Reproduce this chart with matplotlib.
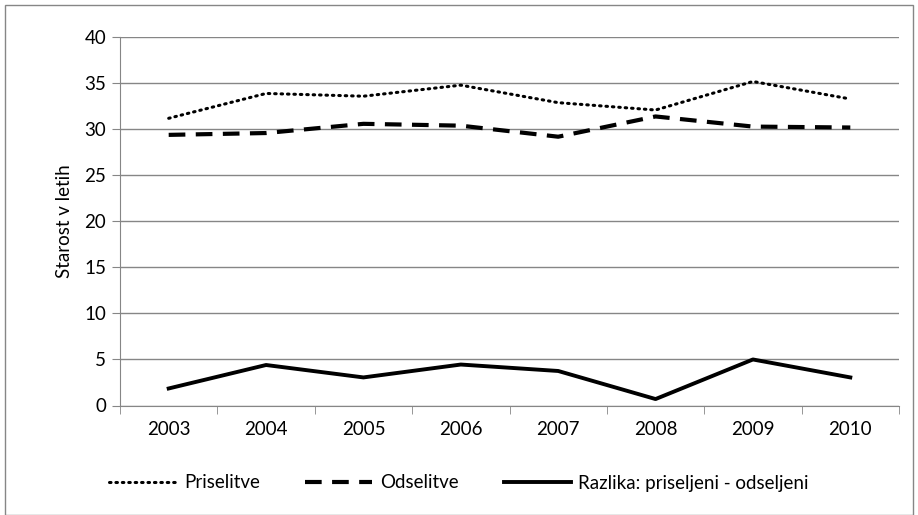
import numpy as np
import matplotlib
matplotlib.use('Agg')
from matplotlib import pyplot as plt
from matplotlib.patches import Rectangle

plt.rcParams['font.family'] = ['Lato', 'DejaVu Sans']

years = ['2003', '2004', '2005', '2006', '2007', '2008', '2009', '2010']
priselitve = [31.2, 33.9, 33.6, 34.8, 32.9, 32.1, 35.2, 33.3]
odselitve = [29.4, 29.6, 30.6, 30.4, 29.2, 31.4, 30.3, 30.2]
razlika = [1.85, 4.4, 3.05, 4.45, 3.75, 0.7, 5.0, 3.05]

grid_col = '#868686'

fig = plt.figure(figsize=(9.18, 5.15), dpi=100)
ax = fig.add_axes([120/918, 1-405.5/515, 779/918, 368.2/515])

x = np.arange(len(years))
ax.plot(x, priselitve, color='black', lw=2.2, linestyle=(0, (0.5, 1.6)),
        dash_capstyle='round', label='Priselitve')
ax.plot(x, odselitve, color='black', lw=3, linestyle=(0, (4, 2.5)), label='Odselitve')
ax.plot(x, razlika, color='black', lw=2.8, label='Razlika: priseljeni - odseljeni')

ax.set_xlim(-0.5, len(years) - 0.5)
ax.set_ylim(0, 40)
ax.set_yticks(np.arange(0, 41, 5))
ax.set_xticks(x)
ax.set_xticklabels(years)
ax.set_xticks(np.arange(-0.5, len(years), 1), minor=True)
ax.tick_params(axis='x', which='major', length=0, pad=11, labelsize=13.5)
ax.tick_params(axis='x', which='minor', length=6, color=grid_col, direction='out')
ax.tick_params(axis='y', length=6, color=grid_col, direction='out', labelsize=13.5, pad=4)
ax.yaxis.grid(True, color=grid_col, lw=1)
ax.set_axisbelow(True)
for s in ['top', 'right']:
    ax.spines[s].set_visible(False)
for s in ['left', 'bottom']:
    ax.spines[s].set_color(grid_col)
ax.set_ylabel('Starost v letih', fontsize=13.5, labelpad=8)

fig.legend(loc='center', bbox_to_anchor=(0.5, 1-483/515), ncol=3, frameon=False,
           fontsize=13.5, handlelength=3.6, columnspacing=2.4, handletextpad=0.4)

fig.patches.append(Rectangle((5/918, 0.0), 1-10/918, 1-5/515, transform=fig.transFigure,
                             fill=False, edgecolor=grid_col, lw=1))

fig.savefig('out.png', dpi=100)
